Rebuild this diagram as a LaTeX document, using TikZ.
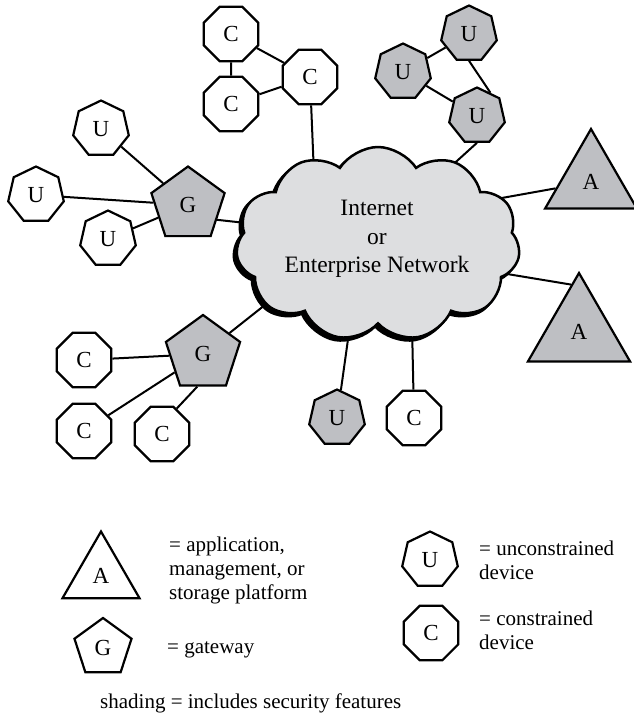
\documentclass[tikz,border=0pt]{standalone}
\usepackage{fontspec}
\setmainfont{Liberation Serif}
\usetikzlibrary{shapes.geometric,shapes.symbols,calc}
\definecolor{nodegray}{RGB}{190,191,195}
\definecolor{cloudgray}{RGB}{221,222,224}
\begin{document}
\begin{tikzpicture}[x=1pt,y=-1pt,
  dev/.style={regular polygon, draw=black, line width=2.2pt, inner sep=0pt, font=\fontsize{23}{25}\selectfont},
  ucdev/.style={dev, regular polygon sides=7, minimum size=57pt},
  cdev/.style={dev, regular polygon sides=8, minimum size=59pt},
  gw/.style={dev, regular polygon sides=5, minimum size=77pt},
  app/.style={dev, regular polygon sides=3},
  secfill/.style={fill=nodegray},
  whitefill/.style={fill=white},
  link/.style={line width=2pt},
  cloudshape/.style={cloud, cloud puffs=11, cloud puff arc=115, aspect=1.45, minimum width=284pt, minimum height=194pt, line width=2.5pt, draw=black},
  legtext/.style={font=\fontsize{21}{24}\selectfont, align=left, anchor=west, inner sep=0pt}
]
\useasboundingbox (0,0) rectangle (634,717);

% top constrained cluster
\node[cdev, whitefill] (C1) at (231,34) {C};
\node[cdev, whitefill] (C2) at (231,104) {C};
\node[cdev, whitefill] (C3) at (310,77) {C};
% top unconstrained cluster
\node[ucdev, secfill] (Ua) at (469,34) {U};
\node[ucdev, secfill] (Ub) at (403,72) {U};
\node[ucdev, secfill] (Uc) at (477,116) {U};
% applications
\node[app, secfill, minimum size=106pt] (A1) at (591,182) {A};
\node[app, secfill, minimum size=118pt] (A2) at (579,332) {A};
% gateway 1 group
\node[ucdev, whitefill] (U1) at (101,129) {U};
\node[ucdev, whitefill] (U2) at (36,195) {U};
\node[ucdev, whitefill] (U3) at (108,239) {U};
\node[gw, secfill] (G1) at (188,205) {G};
% gateway 2 group
\node[gw, secfill, minimum size=78pt] (G2) at (203,354) {G};
\node[cdev, whitefill] (Cl1) at (84,360) {C};
\node[cdev, whitefill] (Cl2) at (84,431) {C};
\node[cdev, whitefill] (Cr2) at (162,434) {C};
% bottom devices
\node[ucdev, secfill] (Ubot) at (337,418) {U};
\node[cdev, whitefill] (Cbot) at (414,418) {C};

% connector ends inside the cloud
\coordinate (kC3) at (314,175);
\coordinate (kUc) at (447,170);
\coordinate (kA1) at (485,201);
\coordinate (kA2) at (495,272);
\coordinate (kG1) at (255,224);
\coordinate (kG2) at (275,297);
\coordinate (kUb) at (350,325);
\coordinate (kCb) at (412,325);

% connectors
\draw[link] (C1) -- (C2);
\draw[link] (C1) -- (C3);
\draw[link] (C2) -- (C3);
\draw[link] (C3) -- (kC3);
\draw[link] (Ub) -- (Ua);
\draw[link] (Ub) -- (Uc);
\draw[link] (Ua.south) -- (Uc.60);
\draw[link] (Uc.south) -- (kUc);
\draw[link] (kA1) -- (A1);
\draw[link] (kA2) -- ($(A2.corner 1)!0.15!(A2.corner 2)$);
\draw[link] (U1) -- (G1);
\draw[link] (U2) -- (G1);
\draw[link] (U3) -- (G1);
\draw[link] (G1.-27) -- (kG1);
\draw[link] (Cl1) -- (G2);
\draw[link] (Cl2) -- (G2);
\draw[link] (Cr2.60) -- (G2.-100);
\draw[link] (G2) -- (kG2);
\draw[link] (Ubot) -- (kUb);
\draw[link] (Cbot) -- (kCb);

% cloud
\node[cloudshape, fill=black] (cloudshadow) at (375,247) {};
\node[cloudshape, fill=cloudgray] (cloud) at (378,244) {};
\node[align=center, font=\fontsize{23.5}{28.5}\selectfont, inner sep=0pt] (cloudtext) at (377,239) {Internet\\or\\Enterprise Network};

% legend
\node[app, whitefill, minimum size=89pt] (LA) at (101,576) {A};
\node[legtext] (LAt) at (169,570) {= application,\\management, or\\storage platform};
\node[gw, whitefill, minimum size=60pt] (LG) at (103,648) {G};
\node[legtext] (LGt) at (167,650) {= gateway};
\node[ucdev, whitefill] (LU) at (430,560) {U};
\node[legtext] (LUt) at (479,560) {= unconstrained\\device};
\node[cdev, whitefill] (LC) at (431,633) {C};
\node[legtext] (LCt) at (479,630) {= constrained\\device};
\node[legtext] (Lshade) at (100,703) {shading = includes security features};
\end{tikzpicture}
\end{document}
